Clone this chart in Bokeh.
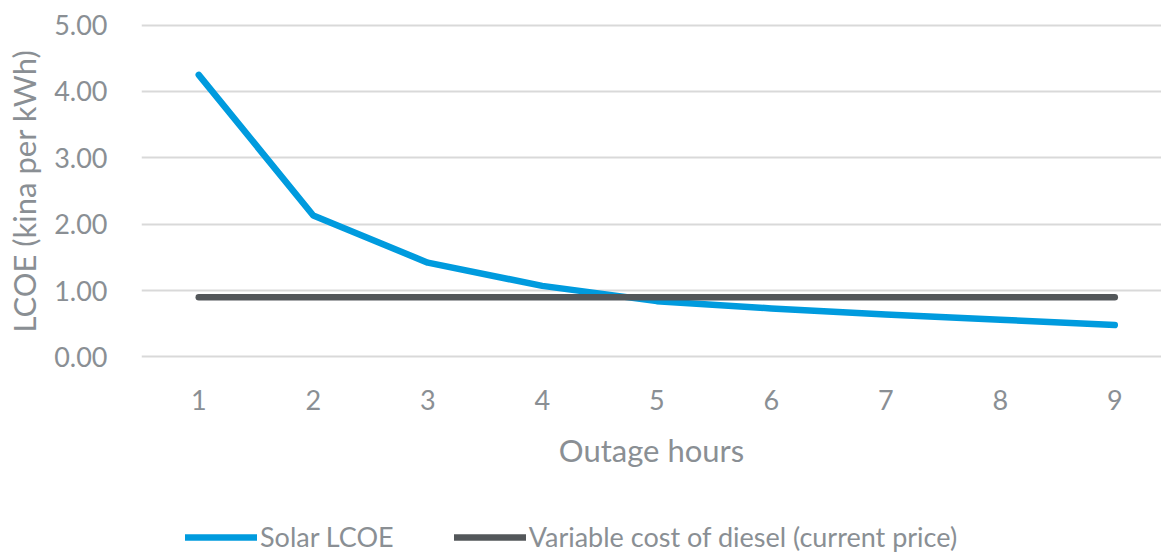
from bokeh.plotting import figure
from bokeh.layouts import column
from bokeh.models import Range1d, FixedTicker, Legend, LegendItem, CustomJSTickFormatter
from bokeh.embed import file_html
from bokeh.resources import INLINE

# Outage hours vs. cost per kWh
hours = [1, 2, 3, 4, 5, 6, 7, 8, 9]
solar_lcoe = [4.25, 2.13, 1.42, 1.07, 0.84, 0.73, 0.64, 0.56, 0.48]
diesel_cost = [0.90, 0.90, 0.90, 0.90, 0.90, 0.90, 0.90, 0.90, 0.90]
y_ticks = [0, 1, 2, 3, 4, 5]
series_names = ["Solar LCOE", "Variable cost of diesel (current price)"]

FONT = "Lato"
TEXT = "#8A8F94"
BLUE = "#009BDE"
DARK = "#53575A"
LINE_STYLE = dict(line_width=6.5, line_cap="round", line_join="round")

# main chart
p = figure(
    frame_width=1020, frame_height=345,
    min_border_left=141, min_border_right=0, min_border_top=18, min_border_bottom=117,
    x_range=Range1d(0.5, 9.408), y_range=Range1d(-0.1, 5.1),
    output_backend="svg", toolbar_location=None,
)
p.outline_line_color = None
p.background_fill_color = "white"
p.border_fill_color = "white"

p.xgrid.grid_line_color = None
p.ygrid.grid_line_color = "#D9D9D9"
p.ygrid.grid_line_width = 2

p.yaxis.ticker = FixedTicker(ticks=y_ticks)
p.yaxis.formatter = CustomJSTickFormatter(code="return tick.toFixed(2);")
p.xaxis.ticker = FixedTicker(ticks=hours)
for ax in (p.xaxis, p.yaxis):
    ax.axis_line_color = None
    ax.major_tick_line_color = None
    ax.minor_tick_line_color = None
    ax.major_label_text_font = FONT
    ax.major_label_text_font_size = "27px"
    ax.major_label_text_color = TEXT
    ax.axis_label_text_font = FONT
    ax.axis_label_text_font_size = "31px"
    ax.axis_label_text_font_style = "normal"
    ax.axis_label_text_color = TEXT

p.yaxis.axis_label = "LCOE (kina per kWh)"
p.yaxis.major_label_standoff = 28
p.yaxis.axis_label_standoff = 8
p.xaxis.axis_label = "Outage hours"
p.xaxis.major_label_standoff = 20
p.xaxis.axis_label_standoff = 18

p.line(hours, solar_lcoe, line_color=BLUE, **LINE_STYLE)
p.line(hours, diesel_cost, line_color=DARK, **LINE_STYLE)

# legend strip underneath: same series, drawn outside its visible range,
# so only the legend entries show
leg = figure(
    width=1161, height=73,
    min_border_left=0, min_border_right=0, min_border_top=0, min_border_bottom=0,
    x_range=Range1d(100, 101), y_range=Range1d(100, 101),
    x_axis_type=None, y_axis_type=None,
    output_backend="svg", toolbar_location=None,
)
leg.outline_line_color = None
leg.xgrid.grid_line_color = None
leg.ygrid.grid_line_color = None
l_solar = leg.line(hours, solar_lcoe, line_color=BLUE, **LINE_STYLE)
l_diesel = leg.line(hours, diesel_cost, line_color=DARK, **LINE_STYLE)

legend = Legend(
    items=[
        LegendItem(label=series_names[0], renderers=[l_solar]),
        LegendItem(label=series_names[1], renderers=[l_diesel]),
    ],
    orientation="horizontal",
    location=(44, 0),
    glyph_width=72, glyph_height=20,
    label_standoff=3, spacing=60,
    padding=0, margin=0,
    border_line_color=None, background_fill_alpha=0,
    label_text_font=FONT, label_text_font_size="27px", label_text_color=TEXT,
)
leg.add_layout(legend, "center")

layout = column(p, leg, spacing=0)
open("out.html", "w").write(file_html(layout, INLINE))
